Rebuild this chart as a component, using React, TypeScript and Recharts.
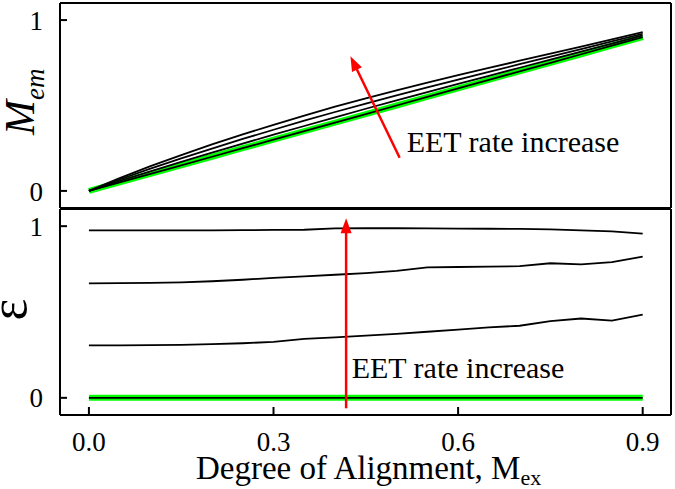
import React from 'react';
import { LineChart, Line, XAxis, YAxis, ReferenceLine } from 'recharts';

const FONT = '"Liberation Serif", "Times New Roman", serif';

// Degree of alignment M_ex
const mex = [0, 0.05, 0.1, 0.15, 0.2, 0.25, 0.3, 0.35, 0.4, 0.45, 0.5, 0.55, 0.6, 0.65, 0.7, 0.75, 0.8, 0.85, 0.9];

// Top panel: M_em for four EET rates (rate0 = no transfer, green)
const memRate0 = [0, 0.05, 0.1, 0.15, 0.2, 0.25, 0.3, 0.35, 0.4, 0.45, 0.5, 0.55, 0.6, 0.65, 0.7, 0.75, 0.8, 0.85, 0.9];
const memRate1 = [0, 0.058, 0.115, 0.17, 0.224, 0.277, 0.329, 0.38, 0.431, 0.481, 0.53, 0.578, 0.626, 0.674, 0.721, 0.768, 0.815, 0.862, 0.91];
const memRate2 = [0, 0.067, 0.13, 0.19, 0.248, 0.304, 0.358, 0.411, 0.462, 0.511, 0.559, 0.606, 0.652, 0.697, 0.742, 0.786, 0.83, 0.875, 0.92];
const memRate3 = [0, 0.075, 0.145, 0.21, 0.272, 0.331, 0.387, 0.441, 0.493, 0.542, 0.589, 0.634, 0.678, 0.72, 0.762, 0.804, 0.845, 0.887, 0.93];

// Bottom panel: epsilon for four EET rates
const epsRate0 = [0, 0, 0, 0, 0, 0, 0, 0, 0, 0, 0, 0, 0, 0, 0, 0, 0, 0, 0];
const epsRate1 = [0.306, 0.306, 0.307, 0.309, 0.313, 0.318, 0.326, 0.343, 0.352, 0.362, 0.373, 0.385, 0.397, 0.41, 0.42, 0.447, 0.462, 0.45, 0.485];
const epsRate2 = [0.667, 0.668, 0.67, 0.673, 0.679, 0.688, 0.699, 0.708, 0.717, 0.727, 0.739, 0.76, 0.762, 0.764, 0.767, 0.784, 0.778, 0.791, 0.823];
const epsRate3 = [0.975, 0.975, 0.975, 0.976, 0.976, 0.977, 0.978, 0.979, 0.987, 0.988, 0.988, 0.987, 0.986, 0.985, 0.984, 0.981, 0.976, 0.97, 0.957];

const xTicks = [0, 0.3, 0.6, 0.9];
const yTicks = [0, 1];
const xDomain: [number, number] = [-0.047, 0.946];
const yDomain: [number, number] = [-0.1, 1.1];

// Arrow annotations (data coordinates: tail -> tip)
const topArrow = [{ x: 0.505, y: 0.194 }, { x: 0.425, y: 0.789 }];
const bottomArrow = [{ x: 0.418, y: -0.061 }, { x: 0.418, y: 1.046 }];

const topData = mex.map((x, i) => ({ x, r0: memRate0[i], r1: memRate1[i], r2: memRate2[i], r3: memRate3[i] }));
const bottomData = mex.map((x, i) => ({ x, r0: epsRate0[i], r1: epsRate1[i], r2: epsRate2[i], r3: epsRate3[i] }));

const AX = { stroke: '#000', strokeWidth: 2 };
const TICK = { fontSize: 27, fill: '#000', fontFamily: FONT, style: { fontFamily: FONT } };

const Arrow = (props: any) => {
  const { x1, y1, x2, y2 } = props;
  const dx = x2 - x1;
  const dy = y2 - y1;
  const len = Math.hypot(dx, dy) || 1;
  const ux = dx / len;
  const uy = dy / len;
  const hl = 15;
  const hw = 5.5;
  const bx = x2 - ux * hl;
  const by = y2 - uy * hl;
  return (
    <g>
      <line x1={x1} y1={y1} x2={bx + ux * 2} y2={by + uy * 2} stroke="#ff0000" strokeWidth={2.5} />
      <polygon points={`${x2},${y2} ${bx - uy * hw},${by + ux * hw} ${bx + uy * hw},${by - ux * hw}`} fill="#ff0000" />
    </g>
  );
};

const renderLines = () => [
  <Line key="g" dataKey="r0" stroke="#00ff00" strokeWidth={6} dot={false} isAnimationActive={false} />,
  <Line key="k0" dataKey="r0" stroke="#000" strokeWidth={1.8} dot={false} isAnimationActive={false} />,
  <Line key="k1" dataKey="r1" stroke="#000" strokeWidth={1.8} dot={false} isAnimationActive={false} />,
  <Line key="k2" dataKey="r2" stroke="#000" strokeWidth={1.8} dot={false} isAnimationActive={false} />,
  <Line key="k3" dataKey="r3" stroke="#000" strokeWidth={1.8} dot={false} isAnimationActive={false} />,
];

export default function App() {
  return (
    <div style={{ position: 'absolute', left: 0, top: 0, width: 675, height: 489, background: '#fff', overflow: 'hidden', fontFamily: FONT }}>
      <div style={{ position: 'absolute', left: 0, top: 0 }}>
        <LineChart width={675} height={212} data={topData} margin={{ top: 2, right: 3, bottom: 3, left: 0 }} style={{ fontFamily: FONT }}>
          <XAxis xAxisId={0} type="number" dataKey="x" domain={xDomain} ticks={xTicks} allowDataOverflow height={1}
            tick={false} tickSize={-8} axisLine={AX} tickLine={AX} />
          <XAxis xAxisId="top" orientation="top" type="number" dataKey="x" domain={xDomain} ticks={xTicks} allowDataOverflow height={1}
            tick={false} tickSize={-8} axisLine={AX} tickLine={AX} />
          <YAxis yAxisId={0} type="number" domain={yDomain} ticks={yTicks} allowDataOverflow width={60}
            tickSize={-7} tickMargin={24} axisLine={AX} tickLine={AX}
            tick={TICK} />
          <YAxis yAxisId="right" orientation="right" type="number" domain={yDomain} ticks={yTicks} allowDataOverflow width={1}
            tick={false} tickSize={-7} axisLine={AX} tickLine={AX} />
          {renderLines()}
          <ReferenceLine segment={topArrow} ifOverflow="visible" shape={Arrow} />
        </LineChart>
      </div>
      <div style={{ position: 'absolute', left: 0, top: 200 }}>
        <LineChart width={675} height={289} data={bottomData} margin={{ top: 8, right: 3, bottom: 0, left: 0 }} style={{ fontFamily: FONT }}>
          <XAxis xAxisId={0} type="number" dataKey="x" domain={xDomain} ticks={xTicks} allowDataOverflow height={74}
            tickSize={-8} tickMargin={24.5} axisLine={AX} tickLine={AX}
            tickFormatter={(v: number) => v.toFixed(1)}
            tick={TICK} />
          <XAxis xAxisId="top" orientation="top" type="number" dataKey="x" domain={xDomain} ticks={xTicks} allowDataOverflow height={1}
            tick={false} tickSize={-8} axisLine={AX} tickLine={AX} />
          <YAxis yAxisId={0} type="number" domain={yDomain} ticks={yTicks} allowDataOverflow width={60}
            tickSize={-7} tickMargin={24} axisLine={AX} tickLine={AX}
            tick={TICK} />
          <YAxis yAxisId="right" orientation="right" type="number" domain={yDomain} ticks={yTicks} allowDataOverflow width={1}
            tick={false} tickSize={-7} axisLine={AX} tickLine={AX} />
          {renderLines()}
          <ReferenceLine segment={bottomArrow} ifOverflow="visible" shape={Arrow} />
        </LineChart>
      </div>
      <svg width={675} height={489} style={{ position: 'absolute', left: 0, top: 0, pointerEvents: 'none' }}>
        <text transform="translate(34,135) rotate(-90)" fontFamily={FONT} fill="#000">
          <tspan fontStyle="italic" fontSize={42}>M</tspan>
          <tspan fontStyle="italic" fontSize={27} dy={10}>em</tspan>
        </text>
        <text transform="translate(26,309.5) rotate(-90)" fontFamily={FONT} fontSize={52} textAnchor="middle" fill="#000">ε</text>
        <text x={406.7} y={152} fontFamily={FONT} fontSize={30} fill="#000">EET rate increase</text>
        <text x={351.7} y={378} fontFamily={FONT} fontSize={30} fill="#000">EET rate increase</text>
        <text x={196} y={479} fontFamily={FONT} fill="#000">
          <tspan fontSize={33}>Degree of Alignment, M</tspan>
          <tspan fontSize={22} dy={6}>ex</tspan>
        </text>
      </svg>
    </div>
  );
}
